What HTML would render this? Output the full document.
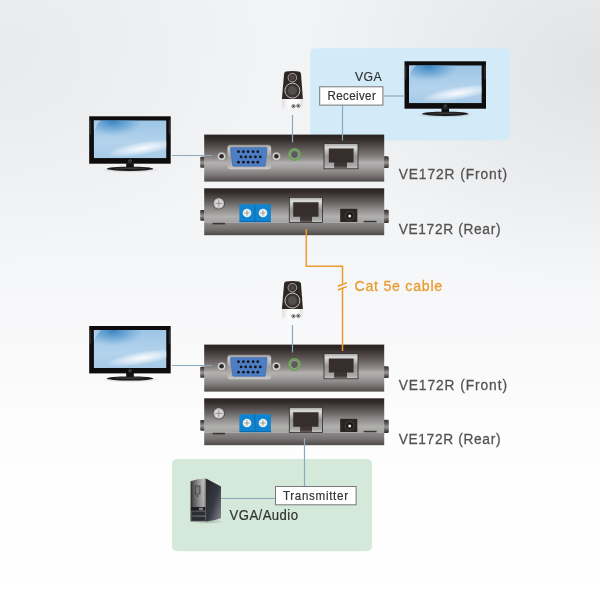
<!DOCTYPE html>
<html><head><meta charset="utf-8">
<style>
html,body{margin:0;padding:0;}
body{width:600px;height:600px;overflow:hidden;background:radial-gradient(270px 210px at 0px 60px,rgba(0,0,0,0.04),rgba(0,0,0,0)),radial-gradient(300px 220px at 600px 70px,rgba(0,0,0,0.07),rgba(0,0,0,0)),linear-gradient(#f2f3f5 0%,#f3f4f6 30%,#f5f6f8 43%,#fafafb 63%,#fdfdfe 72%,#ffffff 100%);font-family:"Liberation Sans",sans-serif;}
svg{position:absolute;left:0;top:0;will-change:transform;}
</style></head><body>
<svg width="600" height="600" viewBox="0 0 600 600" font-family="Liberation Sans, sans-serif">
<defs>
  <linearGradient id="gBody" x1="0" y1="0" x2="0" y2="1">
    <stop offset="0" stop-color="#2a2220"/>
    <stop offset="0.1" stop-color="#342c2a"/>
    <stop offset="0.3" stop-color="#5e5856"/>
    <stop offset="0.5" stop-color="#8e8a8a"/>
    <stop offset="0.6" stop-color="#b4b2b0"/>
    <stop offset="0.7" stop-color="#a2a0a0"/>
    <stop offset="0.86" stop-color="#7c7878"/>
    <stop offset="1" stop-color="#4e4846"/>
  </linearGradient>
  <linearGradient id="gRearTop" x1="0" y1="0" x2="0" y2="1">
    <stop offset="0" stop-color="#2a2220"/>
    <stop offset="0.12" stop-color="#342c2a"/>
    <stop offset="0.4" stop-color="#646060"/>
    <stop offset="0.6" stop-color="#8a8888"/>
    <stop offset="0.83" stop-color="#b0b0ae"/>
    <stop offset="1" stop-color="#a4a2a2"/>
  </linearGradient>
  <linearGradient id="gRearBase" x1="0" y1="0" x2="0" y2="1">
    <stop offset="0" stop-color="#8c8a8a"/>
    <stop offset="0.5" stop-color="#767272"/>
    <stop offset="1" stop-color="#4e4a48"/>
  </linearGradient>
  <linearGradient id="gKnob" x1="0" y1="0" x2="0" y2="1">
    <stop offset="0" stop-color="#342c2a"/>
    <stop offset="0.25" stop-color="#5a5452"/>
    <stop offset="0.55" stop-color="#9a9898"/>
    <stop offset="0.8" stop-color="#5a5452"/>
    <stop offset="1" stop-color="#342c2a"/>
  </linearGradient>
  <linearGradient id="gMetal" x1="0" y1="0" x2="0" y2="1">
    <stop offset="0" stop-color="#8e8c8c"/>
    <stop offset="0.15" stop-color="#cccccc"/>
    <stop offset="0.5" stop-color="#9e9c9c"/>
    <stop offset="0.85" stop-color="#b4b4b4"/>
    <stop offset="1" stop-color="#cacaca"/>
  </linearGradient>
  <linearGradient id="gRJ" x1="0" y1="0" x2="0" y2="1">
    <stop offset="0" stop-color="#a4a2a2"/>
    <stop offset="0.15" stop-color="#dcdcdc"/>
    <stop offset="0.5" stop-color="#969494"/>
    <stop offset="0.85" stop-color="#a8a6a6"/>
    <stop offset="1" stop-color="#c4c4c4"/>
  </linearGradient>
  <linearGradient id="gScreen" x1="0" y1="0" x2="0" y2="1">
    <stop offset="0" stop-color="#9cc5e6"/>
    <stop offset="0.6" stop-color="#b4d3ec"/>
    <stop offset="1" stop-color="#a6cae8"/>
  </linearGradient>
  <radialGradient id="gBlob" cx="0.5" cy="0.5" r="0.5">
    <stop offset="0" stop-color="#2d7cbe" stop-opacity="1"/>
    <stop offset="0.5" stop-color="#4a90c8" stop-opacity="0.6"/>
    <stop offset="1" stop-color="#6aa6d6" stop-opacity="0"/>
  </radialGradient>
  <radialGradient id="gWhite" cx="0.5" cy="0.5" r="0.5">
    <stop offset="0" stop-color="#ffffff" stop-opacity="0.95"/>
    <stop offset="0.5" stop-color="#f4f8fc" stop-opacity="0.6"/>
    <stop offset="1" stop-color="#ffffff" stop-opacity="0"/>
  </radialGradient>
  <clipPath id="cpScreen"><rect x="4.5" y="4" width="72.8" height="38"/></clipPath>
  <radialGradient id="gShadow" cx="0.5" cy="0.5" r="0.5">
    <stop offset="0" stop-color="#000" stop-opacity="0.25"/>
    <stop offset="1" stop-color="#000" stop-opacity="0"/>
  </radialGradient>
  <linearGradient id="gTowerFront" x1="0" y1="0" x2="1" y2="0">
    <stop offset="0" stop-color="#2e2c2c"/>
    <stop offset="0.15" stop-color="#5e5c5c"/>
    <stop offset="0.55" stop-color="#a4a2a2"/>
    <stop offset="0.85" stop-color="#cccaca"/>
    <stop offset="1" stop-color="#7a7878"/>
  </linearGradient>
  <linearGradient id="gTowerFrontV" x1="0" y1="0" x2="0" y2="1">
    <stop offset="0" stop-color="#000" stop-opacity="0.05"/>
    <stop offset="0.6" stop-color="#000" stop-opacity="0.15"/>
    <stop offset="1" stop-color="#000" stop-opacity="0.22"/>
  </linearGradient>
  <linearGradient id="gTowerSide" x1="0" y1="0" x2="1" y2="1">
    <stop offset="0" stop-color="#262426"/>
    <stop offset="0.55" stop-color="#363a44"/>
    <stop offset="1" stop-color="#8a8c92"/>
  </linearGradient>

  <!-- monitor: origin top-left of bezel, 81x47 -->
  <g id="monitor">
    <ellipse cx="40.8" cy="53.8" rx="30" ry="2.6" fill="url(#gShadow)"/>
    <rect x="0" y="0" width="81.5" height="47.4" fill="#0e0c0c"/>
    <rect x="0.3" y="4" width="1.6" height="14" fill="#6a6868" opacity="0.35"/>
    <rect x="79.6" y="4" width="1.6" height="14" fill="#6a6868" opacity="0.35"/>
    <g clip-path="url(#cpScreen)">
      <rect x="4.5" y="4" width="72.8" height="38" fill="url(#gScreen)"/>
      <ellipse cx="24" cy="5" rx="30" ry="15" fill="url(#gBlob)" opacity="0.9"/>
      <ellipse cx="53" cy="32" rx="36" ry="6.5" fill="url(#gWhite)" transform="rotate(-9 53 32)"/>
      <path d="M4.5,4 L12,4 Q7,8 4.5,16 Z" fill="#fff" opacity="0.35"/>
    </g>
    <circle cx="40.8" cy="44.8" r="1.5" fill="#2a2828" stroke="#777" stroke-width="0.4"/>
    <rect x="37" y="47" width="7.6" height="4.5" fill="#111"/>
    <ellipse cx="40.8" cy="52.5" rx="23.3" ry="2.1" fill="#1a1818"/>
    <ellipse cx="40.8" cy="52" rx="16" ry="0.8" fill="#666" opacity="0.45"/>
  </g>

  <!-- speaker: origin at center top -->
  <g id="speaker">
    <defs>
      <linearGradient id="gSpkBase" x1="0" y1="0" x2="1" y2="0">
        <stop offset="0" stop-color="#dedede"/>
        <stop offset="0.3" stop-color="#fbfbfb"/>
        <stop offset="0.7" stop-color="#ffffff"/>
        <stop offset="1" stop-color="#e2e2e2"/>
      </linearGradient>
      <linearGradient id="gSpkFade" x1="0" y1="0" x2="0" y2="1">
        <stop offset="0" stop-color="#fff" stop-opacity="1"/>
        <stop offset="0.6" stop-color="#fff" stop-opacity="1"/>
        <stop offset="1" stop-color="#fff" stop-opacity="0"/>
      </linearGradient>
      <mask id="mSpkFade"><rect x="-12" y="27" width="24" height="12" fill="url(#gSpkFade)"/></mask>
    </defs>
    <rect x="-10.4" y="27.5" width="20.8" height="11.5" fill="url(#gSpkBase)" mask="url(#mSpkFade)"/>
    <path d="M-6.5,0.2 Q0,-0.5 6.5,0.2 Q8.2,0.5 8.6,2.5 L10.5,27.8 L-10.5,27.8 L-8.3,2.5 Q-8,0.5 -6.5,0.2 Z" fill="#2e2624"/>
    <circle cx="0" cy="6.5" r="4.3" fill="#3a3432" stroke="#c4c0be" stroke-width="0.8"/>
    <circle cx="0" cy="6.5" r="2.5" fill="#4a4442"/>
    <circle cx="0" cy="19.4" r="7.5" fill="#3a3432" stroke="#d4d0ce" stroke-width="0.9"/>
    <circle cx="0" cy="19.4" r="4.5" fill="#555050"/>
    <circle cx="1.1" cy="35" r="1.7" fill="none" stroke="#666" stroke-width="0.8"/>
    <circle cx="1.1" cy="35" r="0.9" fill="#222"/>
    <circle cx="5.9" cy="34.6" r="1.7" fill="none" stroke="#666" stroke-width="0.8"/>
    <circle cx="5.9" cy="34.6" r="0.9" fill="#222"/>
  </g>

  <!-- front box: origin at 204.2,134.3 ; 180x47 -->
  <g id="front">
    <path d="M-4,23.5 Q-4,22.5 -3,22.5 L0.5,22.5 L0.5,33.5 L-3,33.5 Q-4,33.5 -4,32.5 Z" fill="url(#gKnob)"/>
    <path d="M179.5,22 L183.3,22 Q184.6,22 184.6,23.5 L184.6,32.2 Q184.6,33.7 183.3,33.7 L179.5,33.7 Z" fill="url(#gKnob)"/>
    <rect x="0" y="0.3" width="180" height="47" fill="url(#gBody)"/>
    <!-- vga screw holes -->
    <circle cx="17.4" cy="22" r="4" fill="#c4c2c2" opacity="0.8"/>
    <circle cx="17.4" cy="22" r="3.4" fill="#d8d8d8"/>
    <circle cx="17.4" cy="22" r="2.3" fill="#2e2a2a"/>
    <circle cx="72.2" cy="22" r="4" fill="#c4c2c2" opacity="0.8"/>
    <circle cx="72.2" cy="22" r="3.4" fill="#d8d8d8"/>
    <circle cx="72.2" cy="22" r="2.3" fill="#2e2a2a"/>
    <!-- vga shell -->
    <rect x="23.2" y="10.4" width="43.8" height="24.5" rx="3" fill="url(#gMetal)"/>
    <path d="M27.1,13.3 L61.9,13.3 Q63,13.3 62.9,14.3 L61.2,31 Q61.1,32 60.1,32 L29.5,32 Q28.5,32 28.4,31 L26.2,14.3 Q26.1,13.3 27.1,13.3 Z" fill="#4c7ec6" stroke="#3a5f9a" stroke-width="0.5"/>
    <g fill="#16161c">
      <circle cx="34.3" cy="17.4" r="1.4"/><circle cx="39.2" cy="17.4" r="1.4"/><circle cx="43.9" cy="17.4" r="1.4"/><circle cx="48.9" cy="17.4" r="1.4"/><circle cx="53.6" cy="17.4" r="1.4"/>
      <circle cx="36.9" cy="22.6" r="1.4"/><circle cx="41.5" cy="22.6" r="1.4"/><circle cx="46.3" cy="22.6" r="1.4"/><circle cx="51.2" cy="22.6" r="1.4"/><circle cx="56.1" cy="22.6" r="1.4"/>
      <circle cx="34.3" cy="27.9" r="1.4"/><circle cx="39.2" cy="27.9" r="1.4"/><circle cx="43.9" cy="27.9" r="1.4"/><circle cx="48.9" cy="27.9" r="1.4"/><circle cx="53.6" cy="27.9" r="1.4"/>
    </g>
    <!-- audio jack -->
    <circle cx="90.3" cy="20.2" r="5.6" fill="none" stroke="#64a84c" stroke-width="1.8"/>
    <circle cx="90.3" cy="20.2" r="4.5" fill="#9e9c9c"/>
    <circle cx="90.3" cy="20.2" r="3.4" fill="#5e5a5a"/>
    <!-- rj45 -->
    <rect x="119.8" y="9.3" width="34" height="25.2" fill="url(#gRJ)" stroke="#2e2828" stroke-width="0.8"/>
    <path d="M124.6,14.1 H149.4 V28.1 H142.6 V33.3 H130.2 V28.1 H124.6 Z" fill="#362e2c"/>
    <rect x="130.2" y="28.1" width="12.4" height="5.2" fill="#3e3634"/><rect x="130.2" y="32.3" width="12.4" height="1" fill="#6a6464"/>
  </g>

  <!-- rear box: origin 204.2,188.2 ; 180x47 -->
  <g id="rear">
    <path d="M-4,22.8 Q-4,21.8 -3,21.8 L0.5,21.8 L0.5,32.6 L-3,32.6 Q-4,32.6 -4,31.6 Z" fill="url(#gKnob)"/>
    <path d="M179.5,21.5 L183.3,21.5 Q184.6,21.5 184.6,23 L184.6,33.2 Q184.6,34.7 183.3,34.7 L179.5,34.7 Z" fill="url(#gKnob)"/>
    <rect x="0" y="0.1" width="180" height="34.1" fill="url(#gRearTop)"/>
    <rect x="0" y="34.2" width="180" height="12.8" fill="url(#gRearBase)"/>
    <!-- screw -->
    <circle cx="14.6" cy="15.2" r="6.1" fill="#464040"/>
    <circle cx="14.6" cy="15.2" r="5.4" fill="#b8b6b6"/>
    <circle cx="14.6" cy="15.2" r="4" fill="#dad8d8"/>
    <path d="M11.4,15.2 H17.8 M14.6,12 V18.4" stroke="#8a8686" stroke-width="0.9"/>
    <rect x="8.4" y="34.6" width="12.4" height="1.6" fill="#3a3434"/>
    <!-- terminal blocks -->
    <rect x="35.2" y="16.1" width="31.5" height="17.8" fill="#0f85d2"/>
    <rect x="35.2" y="33" width="31.5" height="0.9" fill="#0a66a8"/>
    <rect x="50.4" y="16.1" width="0.7" height="17.8" fill="#0a62a2"/>
    <circle cx="42.8" cy="24.8" r="4.3" fill="#eceef0"/>
    <circle cx="58.8" cy="24.8" r="4.3" fill="#eceef0"/>
    <path d="M40.2,24.8 H45.4 M42.8,22.2 V27.4 M56.2,24.8 H61.4 M58.8,22.2 V27.4" stroke="#8a8a8a" stroke-width="0.8"/>
    <!-- rj45 -->
    <rect x="85.1" y="9.1" width="33.2" height="25.1" fill="url(#gRJ)" stroke="#2e2828" stroke-width="0.8"/>
    <path d="M89,14 H114.3 V28.5 H107.7 V33.5 H96.1 V28.5 H89 Z" fill="#362e2c"/>
    <rect x="96.1" y="28.5" width="11.6" height="5" fill="#3e3634"/><rect x="96.1" y="32.5" width="11.6" height="1" fill="#6a6464"/>
    <!-- DC jack -->
    <rect x="136" y="20.6" width="17.1" height="13.2" fill="#2a2422"/>
    <circle cx="145.5" cy="27.7" r="4.3" fill="#1e1a1a" stroke="#4e4848" stroke-width="0.9"/>
    <circle cx="145.5" cy="27.7" r="1.5" fill="#e8e8e8"/>
    <rect x="159.5" y="32.6" width="12.8" height="1.5" fill="#3a3434"/>
  </g>
</defs>

<!-- colored regions -->
<rect x="310.3" y="48.2" width="200" height="92.3" rx="5" fill="#d3eaf8"/>
<rect x="172" y="459" width="200" height="92.3" rx="5" fill="#d4e9d9"/>

<!-- devices -->
<use href="#monitor" x="89.2" y="116.3"/>
<use href="#monitor" x="404.5" y="61.3"/>
<use href="#monitor" x="89.2" y="326"/>
<use href="#speaker" x="292.4" y="71.2"/>
<use href="#speaker" x="292.4" y="281.2"/>
<use href="#front" x="204.2" y="134.3"/>
<use href="#rear" x="204.2" y="188.2"/>
<use href="#front" x="204.2" y="344.3"/>
<use href="#rear" x="204.2" y="398.2"/>

<!-- tower -->
<g>
  <ellipse cx="207" cy="521.5" rx="17" ry="2.5" fill="url(#gShadow)"/>
  <path d="M206,478.5 L221,486.5 L221,518.3 Q214,521 206,521.6 Z" fill="url(#gTowerSide)"/>
  <path d="M190.6,481.2 Q197,478.9 206,478.5 L206,521.6 L190.6,521.2 Z" fill="url(#gTowerFront)"/>
  <path d="M190.6,481.2 Q197,478.9 206,478.5 L206,521.6 L190.6,521.2 Z" fill="url(#gTowerFrontV)"/>
  <rect x="195.3" y="486" width="4.7" height="8" fill="#7a7c78" stroke="#2a2a2a" stroke-width="0.6"/>
  <path d="M196.6,495.5 L198.7,495.5 L197.65,497 Z" fill="#333"/>
  <rect x="191.3" y="507" width="14" height="3.6" fill="#1e1e20"/>
  <rect x="199" y="507.8" width="4" height="2" fill="#8a8a8a"/>
  <rect x="191.3" y="511.2" width="14" height="4.6" fill="#2c2e34" stroke="#6a6a6e" stroke-width="0.4"/>
  <rect x="191.3" y="516.4" width="14" height="4.6" fill="#2c2e34" stroke="#6a6a6e" stroke-width="0.4"/>
</g>

<!-- connection lines -->
<g stroke="#88aabf" stroke-width="1.2" fill="none">
  <path d="M172,155.5 H212"/>
  <path d="M292.5,115 V142.5"/>
  <path d="M342.5,105 V140.5"/>
  <path d="M383.3,96 H405"/>
  <path d="M172,365.5 H212"/>
  <path d="M292.5,325 V352.5"/>
  <path d="M304.5,438 V486"/>
  <path d="M221,498.5 H275"/>
</g>
<g stroke="#eb9b2c" stroke-width="1.5" fill="none">
  <path d="M306.3,229 V266.3 H342.5 V283.5"/>
  <path d="M342.5,287.5 V351"/>
  <path d="M337.8,286.2 L346.8,282.8"/>
  <path d="M337.8,290 L346.8,286.6"/>
</g>

<!-- label boxes -->
<rect x="319.7" y="86.8" width="63.2" height="18.3" fill="#fff" stroke="#777" stroke-width="1"/>
<rect x="275.5" y="486.5" width="80.6" height="18.3" fill="#fff" stroke="#777" stroke-width="1"/>

<!-- text -->
<g fill="#333333" stroke="#333333" stroke-width="0.2">
  <text transform="scale(0.92,1)" x="385.87" y="81.3" font-size="13.3" textLength="29.02" lengthAdjust="spacing">VGA</text>
  <text transform="scale(0.92,1)" x="355.98" y="100" font-size="12.6" textLength="52.50" lengthAdjust="spacing">Receiver</text>
  <text transform="scale(0.92,1)" x="307.61" y="500" font-size="12.6" textLength="70.65" lengthAdjust="spacing">Transmitter</text>
  <text transform="scale(0.92,1)" x="249.57" y="520.1" font-size="14.3" textLength="74.35" lengthAdjust="spacing">VGA/Audio</text>
</g>
<g fill="#545252" stroke="#545252" stroke-width="0.3">
  <text transform="scale(0.9,1)" x="443.00" y="179.5" font-size="15.3" textLength="120.33" lengthAdjust="spacing">VE172R (Front)</text>
  <text transform="scale(0.9,1)" x="443.00" y="233.6" font-size="15.3" textLength="113.11" lengthAdjust="spacing">VE172R (Rear)</text>
  <text transform="scale(0.9,1)" x="443.00" y="390" font-size="15.3" textLength="120.33" lengthAdjust="spacing">VE172R (Front)</text>
  <text transform="scale(0.9,1)" x="443.00" y="443.6" font-size="15.3" textLength="113.11" lengthAdjust="spacing">VE172R (Rear)</text>
</g>
<text transform="scale(0.92,1)" x="385.33" y="290.7" font-size="15.5" fill="#e99a2e" stroke="#e99a2e" stroke-width="0.25" textLength="95.33" lengthAdjust="spacing">Cat 5e cable</text>
</svg>
</body></html>
